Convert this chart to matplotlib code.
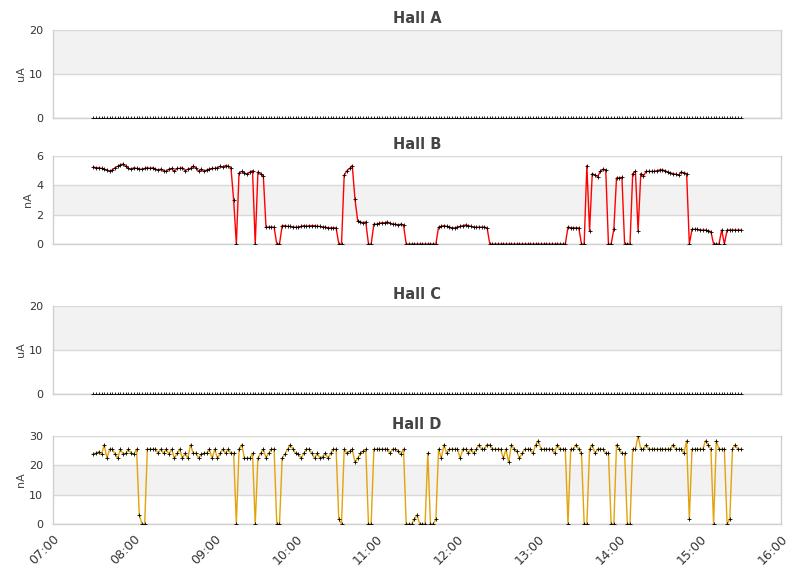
import numpy as np
import matplotlib.pyplot as plt
import matplotlib.dates as mdates

# one reading every 2 minutes, 07:30 .. 15:30
start = np.datetime64('2024-01-01T07:30')
n_points = 241
times = start + np.arange(n_points) * np.timedelta64(2, 'm')

hall_a = [0.0] * n_points
hall_c = [0.0] * n_points

hall_b = [
    5.25, 5.2, 5.2, 5.15, 5.1, 5.05, 4.95, 5.05, 5.2, 5.3,
    5.4, 5.45, 5.3, 5.15, 5.1, 5.2, 5.15, 5.1, 5.1, 5.15,
    5.2, 5.15, 5.2, 5.1, 5.05, 5.1, 5.0, 4.95, 5.1, 5.15,
    4.95, 5.15, 5.15, 5.2, 5.0, 5.1, 5.15, 5.3, 5.2, 4.95,
    5.1, 4.95, 5.05, 5.1, 5.15, 5.15, 5.2, 5.3, 5.25, 5.35,
    5.3, 5.2, 3.0, 0.0, 4.85, 4.95, 4.85, 4.75, 4.9, 5.0,
    0.0, 4.9, 4.8, 4.65, 1.15, 1.15, 1.15, 1.15, 0.0, 0.0,
    1.25, 1.25, 1.2, 1.2, 1.15, 1.15, 1.15, 1.2, 1.25, 1.2,
    1.25, 1.25, 1.25, 1.2, 1.2, 1.15, 1.15, 1.1, 1.1, 1.1,
    1.1, 0.0, 0.0, 4.7, 5.0, 5.15, 5.35, 3.05, 1.6, 1.5,
    1.45, 1.5, 0.0, 0.0, 1.35, 1.35, 1.4, 1.45, 1.45, 1.5,
    1.4, 1.35, 1.35, 1.3, 1.35, 1.3, 0.0, 0.0, 0.0, 0.0,
    0.0, 0.0, 0.0, 0.0, 0.0, 0.0, 0.0, 0.0, 1.15, 1.2,
    1.25, 1.2, 1.15, 1.1, 1.1, 1.15, 1.2, 1.25, 1.3, 1.25,
    1.2, 1.15, 1.15, 1.15, 1.15, 1.15, 1.1, 0.0, 0.0, 0.0,
    0.0, 0.0, 0.0, 0.0, 0.0, 0.0, 0.0, 0.0, 0.0, 0.0,
    0.0, 0.0, 0.0, 0.0, 0.0, 0.0, 0.0, 0.0, 0.0, 0.0,
    0.0, 0.0, 0.0, 0.0, 0.0, 0.0, 1.15, 1.1, 1.1, 1.1,
    1.1, 0.0, 0.0, 5.35, 0.9, 4.8, 4.7, 4.6, 4.95, 5.1,
    5.05, 0.0, 0.0, 1.0, 4.5, 4.5, 4.55, 0.0, 0.0, 0.0,
    4.8, 4.95, 0.9, 4.8, 4.65, 4.95, 4.95, 4.95, 4.95, 5.0,
    5.05, 5.05, 5.0, 4.9, 4.85, 4.8, 4.75, 4.7, 4.9, 4.85,
    4.8, 0.0, 1.0, 1.0, 1.0, 0.95, 0.95, 0.95, 0.9, 0.85,
    0.0, 0.0, 0.0, 0.95, 0.0, 0.95, 0.95, 0.95, 0.95, 0.95,
    0.95,
]

hall_d = [
    24.0, 24.1, 24.7, 23.8, 27.0, 22.4, 25.5, 25.5, 23.8, 22.4,
    25.5, 23.8, 24.1, 25.5, 24.1, 23.8, 25.5, 3.1, 0.0, 0.0,
    25.5, 25.5, 25.5, 25.5, 24.1, 25.5, 24.1, 25.5, 23.8, 25.5,
    22.4, 24.1, 25.5, 22.4, 24.1, 22.4, 27.0, 24.1, 24.1, 22.4,
    23.8, 24.1, 24.1, 25.5, 22.4, 25.5, 22.4, 24.1, 25.5, 24.1,
    25.5, 24.1, 24.1, 0.0, 25.5, 27.0, 22.4, 22.4, 22.4, 24.1,
    0.0, 22.4, 24.1, 25.5, 22.6, 24.1, 25.5, 25.5, 0.0, 0.0,
    22.4, 23.8, 25.5, 27.0, 25.5, 24.1, 23.8, 22.4, 24.1, 25.5,
    25.5, 24.1, 22.4, 24.1, 22.4, 23.0, 24.1, 22.4, 24.1, 25.5,
    25.5, 1.6, 0.0, 25.5, 24.1, 24.8, 25.5, 21.0, 22.4, 24.1,
    24.8, 25.5, 0.0, 0.0, 25.5, 25.5, 25.5, 25.5, 25.5, 25.5,
    24.1, 25.5, 25.5, 24.8, 23.8, 25.5, 0.0, 0.0, 0.0, 1.6,
    3.1, 0.0, 0.0, 0.0, 24.1, 0.0, 0.0, 1.6, 25.5, 22.4,
    27.0, 24.1, 25.5, 25.5, 25.5, 25.5, 22.4, 25.5, 25.5, 24.1,
    25.5, 24.1, 25.5, 27.0, 25.5, 25.5, 27.0, 27.0, 25.5, 25.5,
    25.5, 25.5, 22.4, 25.5, 21.0, 27.0, 25.5, 24.8, 22.4, 24.1,
    25.5, 25.5, 25.5, 24.1, 27.0, 28.4, 25.5, 25.5, 25.5, 25.5,
    25.5, 24.1, 27.0, 25.5, 25.5, 25.5, 0.0, 25.5, 25.5, 27.0,
    25.5, 24.1, 0.0, 0.0, 25.5, 27.0, 24.1, 25.5, 25.5, 25.5,
    24.1, 24.1, 0.0, 0.0, 27.0, 25.5, 24.1, 24.1, 0.0, 0.0,
    25.5, 25.5, 30.0, 25.5, 25.5, 27.0, 25.5, 25.5, 25.5, 25.5,
    25.5, 25.5, 25.5, 25.5, 25.5, 27.0, 25.5, 25.5, 25.5, 24.1,
    28.4, 1.6, 25.5, 25.5, 25.5, 25.5, 25.5, 28.4, 27.0, 25.5,
    0.0, 28.4, 25.5, 25.5, 25.5, 0.0, 1.6, 25.5, 27.0, 25.5,
    25.5,
]

panels = [
    # title, unit, values, line colour, ylim, ticks, shaded band
    ('Hall A', 'uA', hall_a, None, 20, [0, 10, 20], (10, 20)),
    ('Hall B', 'nA', hall_b, '#ff0000', 6, [0, 2, 4, 6], (2, 4)),
    ('Hall C', 'uA', hall_c, None, 20, [0, 10, 20], (10, 20)),
    ('Hall D', 'nA', hall_d, '#e3a30c', 30, [0, 10, 20, 30], (10, 20)),
]

W, H = 811, 578
tops = [30, 156, 306, 436]
left, right, height = 53, 781, 88

plt.rcParams['font.family'] = 'DejaVu Sans'
fig = plt.figure(figsize=(W / 100, H / 100), dpi=100)

axes = []
for (title, unit, vals, color, ymax, ticks, band), top in zip(panels, tops):
    ax = fig.add_axes([left / W, 1 - (top + height) / H, (right - left) / W, height / H])
    ax.axhspan(band[0], band[1], color='#f2f2f2', zorder=0, lw=0)
    for t in ticks:
        ax.axhline(t, color='#d9d9d9', lw=1, zorder=1)
    if color is not None:
        ax.plot(times, vals, color=color, lw=1, zorder=2)
    ax.plot(times, vals, ls='none', marker='+', ms=2.5, mew=0.6, color='black', zorder=3)

    ax.set_ylim(0, ymax)
    ax.set_yticks(ticks)
    ax.set_xlim(np.datetime64('2024-01-01T07:00'), np.datetime64('2024-01-01T16:00'))
    ax.set_title(title, fontsize=10.5, fontweight='bold', color='#444444', pad=5)
    ax.set_ylabel(unit, fontsize=8, color='#444444', labelpad=2)
    ax.tick_params(axis='y', length=0, labelsize=8, colors='#333333', pad=7)
    ax.tick_params(axis='x', length=0)
    for sp in ax.spines.values():
        sp.set_color('#d0d0d0')
        sp.set_linewidth(1)
    ax.spines['top'].set_visible(False)
    axes.append(ax)

for ax in axes[:-1]:
    ax.xaxis.set_major_locator(mdates.HourLocator())
    ax.set_xticklabels([])

bottom_ax = axes[-1]
bottom_ax.xaxis.set_major_locator(mdates.HourLocator())
bottom_ax.xaxis.set_major_formatter(mdates.DateFormatter('%H:%M'))
plt.setp(bottom_ax.get_xticklabels(), rotation=45, ha='right', rotation_mode='anchor',
         fontsize=9, color='#333333')
bottom_ax.tick_params(axis='x', pad=6)

fig.savefig('out.png', dpi=100)
plt.close(fig)
